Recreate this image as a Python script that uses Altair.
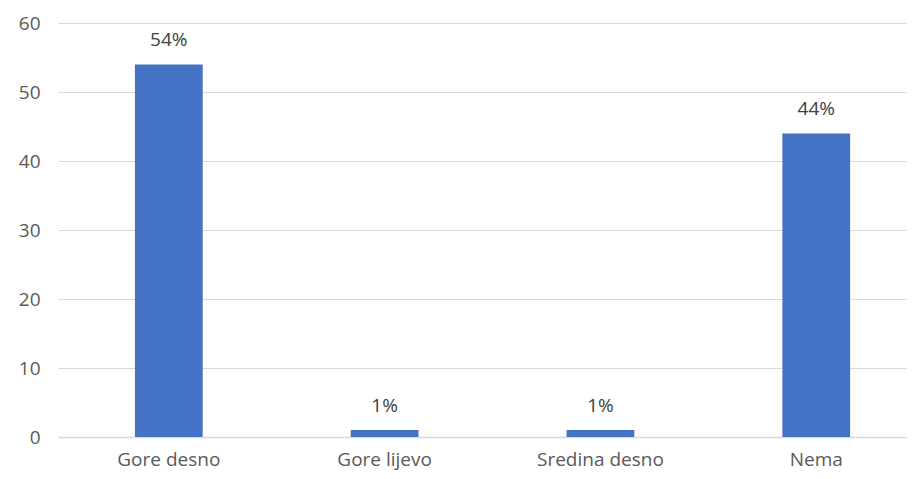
import altair as alt
import pandas as pd

categories = ["Gore desno", "Gore lijevo", "Sredina desno", "Nema"]
values = [54, 1, 1, 44]
labels = ["54%", "1%", "1%", "44%"]

df = pd.DataFrame({"cat": categories, "val": values, "lab": labels})

FONT = "Open Sans"

xscale = alt.Scale(paddingInner=0.686, paddingOuter=0.31, align=0.575)

x = alt.X("cat:N", sort=categories, title=None, scale=xscale,
          axis=alt.Axis(labelAngle=0, ticks=False, labelFontSize=19, labelFont=FONT,
                        labelColor="#595959", labelPadding=13, domainColor="#d9d9d9",
                        domainWidth=1.5))
y = alt.Y("val:Q", title=None,
          scale=alt.Scale(domain=[0, 60]),
          axis=alt.Axis(values=[0, 10, 20, 30, 40, 50, 60], ticks=False, domain=False,
                        labelFontSize=19, labelFont=FONT, labelColor="#595959",
                        labelPadding=18, gridColor="#d9d9d9", gridWidth=1.2))

bars = alt.Chart(df).mark_bar(color="#4472C4").encode(x=x, y=y)
text = alt.Chart(df).mark_text(dy=-18, baseline="alphabetic", fontSize=19, font=FONT,
                               color="#404040").encode(x=alt.X("cat:N", sort=categories),
                                                       y="val:Q", text="lab:N")

chart = (bars + text).properties(
    width=849, height=414,
    autosize=alt.AutoSizeParams(type="none"),
    padding={"left": 50, "top": 15, "right": 0, "bottom": 34},
).configure_view(stroke=None)

chart.save("out.html", embed_options={"renderer": "svg", "actions": False})
